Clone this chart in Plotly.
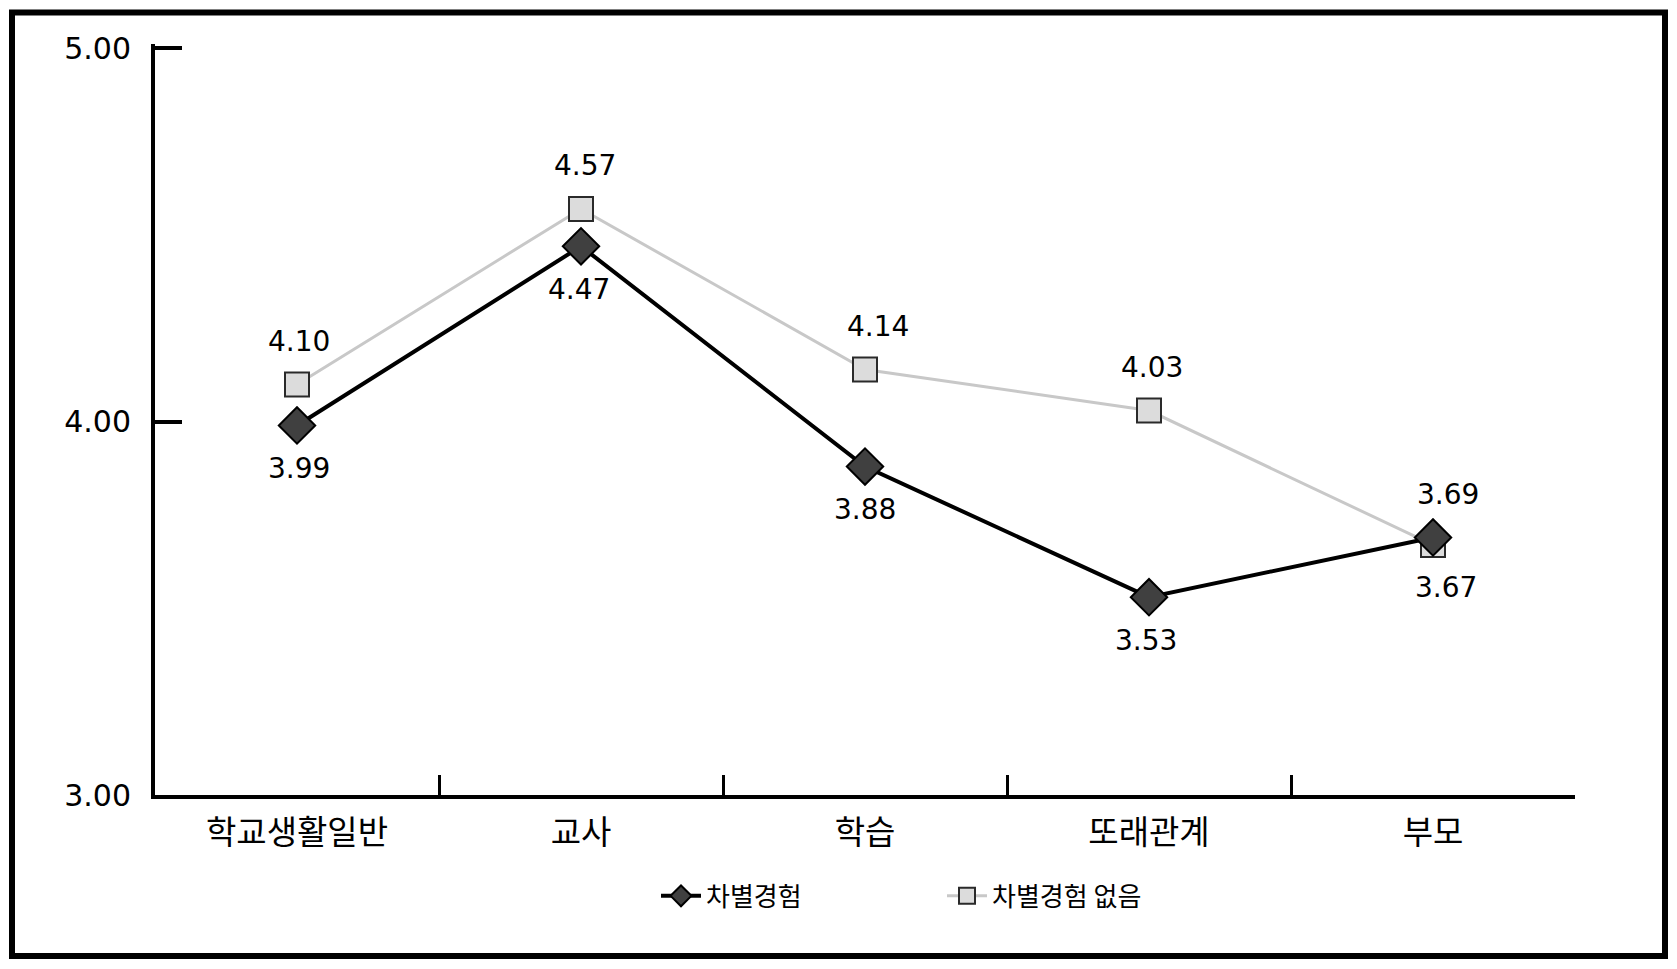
import plotly.graph_objects as go

categories = ["학교생활일반", "교사", "학습", "또래관계", "부모"]
series_names = ["차별경험", "차별경험 없음"]
discrim = [3.99, 4.47, 3.88, 3.53, 3.69]
no_discrim = [4.10, 4.57, 4.14, 4.03, 3.67]
y_ticks = [3, 4, 5]
y_tick_labels = ["3.00", "4.00", "5.00"]

# label placement (style): +1 above, -1 below; small horizontal nudges
discrim_dir = [-1, -1, -1, -1, 1]
no_discrim_dir = [1, 1, 1, 1, -1]
discrim_dx = [2, -2, 0, -3, 15]
no_discrim_dx = [2, 4, 13, 3, 13]

W, H = 1677, 969
Y_MIN, Y_MAX, Y_PAD = 3, 5, 0.012   # small pad so the top tick is not clipped
PX_PER_UNIT = 747 / 2
L, R, B = 155, 102, 174
ph = PX_PER_UNIT * (Y_MAX + Y_PAD - Y_MIN)
T = H - B - ph
pw = W - L - R

def px_x(p):
    return (p - L) / pw

def px_y(p):
    return (H - B - p) / ph

NUM_FONT = "DejaVu Sans"
KR_FONT = "Noto Sans CJK KR"

fig = go.Figure()
fig.add_trace(go.Scatter(
    x=categories, y=no_discrim, name=series_names[1], mode="lines+markers",
    line=dict(color="#c8c8c8", width=3),
    marker=dict(symbol="square", size=24, color="#dcdcdc",
                line=dict(color="#2a2a2a", width=2)),
    legendrank=2,
))
fig.add_trace(go.Scatter(
    x=categories, y=discrim, name=series_names[0], mode="lines+markers",
    line=dict(color="#000000", width=4),
    marker=dict(symbol="diamond", size=28, color="#404040",
                line=dict(color="#000000", width=2)),
    legendrank=1,
))

annotations = []
for vals, dirs, dxs in [(discrim, discrim_dir, discrim_dx),
                        (no_discrim, no_discrim_dir, no_discrim_dx)]:
    for c, v, d, dx in zip(categories, vals, dirs, dxs):
        annotations.append(dict(
            x=c, y=v, xref="x", yref="y", text=f"{v:.2f}", showarrow=False,
            yshift=43 * d, xshift=dx,
            font=dict(family=NUM_FONT, size=28, color="#000000"),
        ))

fig.update_layout(
    width=W, height=H,
    margin=dict(l=L, r=R, t=T, b=B, pad=0),
    paper_bgcolor="white", plot_bgcolor="white",
    showlegend=True,
    legend=dict(
        orientation="h", x=px_x(656), xanchor="left",
        y=px_y(896), yanchor="middle",
        font=dict(family=KR_FONT, size=26, color="#000000"),
        itemwidth=40, entrywidth=231, entrywidthmode="pixels",
        bgcolor="rgba(0,0,0,0)",
    ),
    annotations=annotations,
    shapes=[dict(
        type="rect", xref="paper", yref="paper",
        x0=px_x(12), x1=px_x(1665), y0=px_y(956), y1=px_y(12),
        line=dict(color="#000000", width=6), fillcolor="rgba(0,0,0,0)",
        layer="above",
    )],
    xaxis=dict(
        type="category", range=[-0.5, 4.5],
        showline=True, linecolor="#000000", linewidth=4,
        ticks="inside", ticklen=20, tickwidth=3, tickcolor="#000000",
        tickson="boundaries", showgrid=False, zeroline=False,
        tickfont=dict(family=KR_FONT, size=33, color="#000000"),
        ticklabelstandoff=5,
    ),
    yaxis=dict(
        range=[Y_MIN, Y_MAX + Y_PAD], tickvals=y_ticks, ticktext=y_tick_labels,
        showline=True, linecolor="#000000", linewidth=4,
        ticks="inside", ticklen=27, tickwidth=4, tickcolor="#000000",
        showgrid=False, zeroline=False,
        tickfont=dict(family=NUM_FONT, size=30, color="#000000"),
        ticklabelstandoff=14,
    ),
    yaxis2=dict(
        range=[Y_MIN, Y_MAX + Y_PAD], overlaying="y", side="left",
        tickvals=y_ticks[1:],
        showticklabels=False, showline=False, showgrid=False, zeroline=False,
        ticks="outside", ticklen=8, tickwidth=4, tickcolor="#000000",
    ),
)

fig.write_html("out.html")
